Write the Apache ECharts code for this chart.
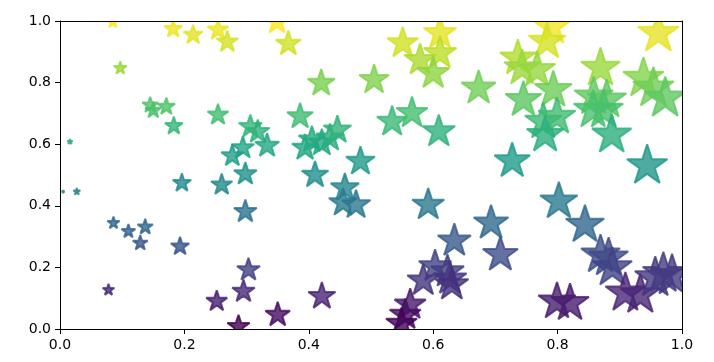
<!DOCTYPE html>
<html><head><meta charset="utf-8">
<script src="https://cdn.jsdelivr.net/npm/echarts@6/dist/echarts.min.js"></script>
<style>html,body{margin:0;padding:0;background:#fff}#c{width:714px;height:362px}</style>
</head><body><div id="c"></div>
<script>
// ---- data ----
const xValues = [
  0.085,0.182,0.214,0.254,0.269,0.349,0.367,0.097,0.016,0.145,
  0.150,0.171,0.183,0.254,0.420,0.386,0.306,0.318,0.333,0.294,
  0.277,0.298,0.394,0.405,0.421,0.434,0.446,0.410,0.551,0.611,
  0.579,0.611,0.600,0.505,0.673,0.534,0.566,0.609,0.483,0.727,
  0.791,0.783,0.962,0.736,0.743,0.767,0.793,0.745,0.869,0.938,
  0.954,0.973,0.858,0.879,0.874,0.857,0.887,0.777,0.799,0.780,
  0.944,0.005,0.027,0.196,0.086,0.110,0.137,0.129,0.193,0.078,
  0.260,0.298,0.458,0.455,0.476,0.303,0.295,0.252,0.287,0.350,
  0.421,0.592,0.693,0.634,0.708,0.603,0.584,0.623,0.627,0.630,
  0.563,0.555,0.549,0.802,0.844,0.869,0.882,0.888,0.799,0.820,
  0.909,0.933,0.957,0.970,0.984
];
const yValues = [
  0.997,0.974,0.955,0.971,0.932,0.997,0.926,0.847,0.608,0.727,
  0.710,0.722,0.659,0.695,0.798,0.690,0.657,0.640,0.595,0.588,
  0.562,0.503,0.588,0.614,0.604,0.620,0.646,0.500,0.928,0.960,
  0.873,0.895,0.830,0.809,0.782,0.673,0.701,0.641,0.544,0.545,
  0.981,0.933,0.960,0.879,0.847,0.841,0.776,0.744,0.847,0.814,
  0.782,0.749,0.754,0.744,0.711,0.711,0.630,0.673,0.689,0.630,
  0.530,0.446,0.446,0.474,0.344,0.317,0.331,0.279,0.268,0.127,
  0.468,0.381,0.458,0.410,0.403,0.192,0.122,0.090,0.008,0.046,
  0.106,0.403,0.344,0.286,0.241,0.203,0.157,0.186,0.163,0.144,
  0.079,0.046,0.017,0.414,0.338,0.241,0.231,0.199,0.089,0.084,
  0.117,0.111,0.166,0.180,0.173
];
const xTickValues = [0.0,0.2,0.4,0.6,0.8,1.0];
const yTickValues = [0.0,0.2,0.4,0.6,0.8,1.0];

// ---- styling ----
const viridis = ['#440154','#482475','#414487','#355f8d','#2a788e','#21918c','#22a884','#44bf70','#7ad151','#bddf26','#fde725'];
function hexToRgb(h){return [parseInt(h.slice(1,3),16),parseInt(h.slice(3,5),16),parseInt(h.slice(5,7),16)];}
function cmap(t){
  t = Math.max(0, Math.min(1, t));
  const p = t*(viridis.length-1), i = Math.min(Math.floor(p), viridis.length-2), f = p-i;
  const a = hexToRgb(viridis[i]), b = hexToRgb(viridis[i+1]);
  const c = a.map((v,k)=>Math.round(v+(b[k]-v)*f));
  return 'rgb('+c.join(',')+')';
}
// matplotlib-like 5-point star, bbox forced to the unit square so its centre is the circle centre
let starPath = 'path://M-1,-1 M1,1 ';
for (let k=0;k<10;k++){
  const ang = (-90 + k*36)*Math.PI/180, r = (k%2===0)?1:0.381966;
  starPath += (k===0?'M':'L') + (r*Math.cos(ang)).toFixed(5) + ',' + (r*Math.sin(ang)).toFixed(5) + ' ';
}
starPath += 'Z';

const yMin = Math.min(...yValues), yMax = Math.max(...yValues);
const seriesData = xValues.map((x,i)=>{
  const col = cmap((yValues[i]-yMin)/(yMax-yMin));
  return {value:[x, yValues[i]], itemStyle:{color:col, borderColor:col}};
});

const G = {left:60, top:21, width:622, height:308};
const W = 714, H = 362;
const font = 'DejaVu Sans';
const axisCommon = {
  min:0, max:1, interval:0.2, z:20,
  axisLine:{show:true, onZero:false, lineStyle:{color:'#000', width:1}},
  axisTick:{show:true, inside:false, length:5, lineStyle:{color:'#000', width:1}},
  axisLabel:{color:'#000', fontSize:14, fontFamily:font, margin:9, formatter:v=>Number(v).toFixed(1)},
  splitLine:{show:false}
};
const spine = (pos)=>({type:'value', position:pos, min:0, max:1, z:20,
  axisLine:{show:true, onZero:false, lineStyle:{color:'#000', width:1}},
  axisTick:{show:false}, axisLabel:{show:false}, splitLine:{show:false}});

const chart = echarts.init(document.getElementById('c'), null, {renderer:'canvas'});
chart.setOption({
  animation:false,
  backgroundColor:'#fff',
  grid:{left:G.left, top:G.top, width:G.width, height:G.height, containLabel:false},
  xAxis:[Object.assign({type:'value', position:'bottom', customValues:xTickValues}, axisCommon), spine('top')],
  yAxis:[Object.assign({type:'value', position:'left', customValues:yTickValues}, axisCommon), spine('right')],
  graphic:[
    {type:'rect', z:10, silent:true, shape:{x:0,y:0,width:G.left,height:H}, style:{fill:'#fff'}},
    {type:'rect', z:10, silent:true, shape:{x:G.left+G.width,y:0,width:W-G.left-G.width,height:H}, style:{fill:'#fff'}},
    {type:'rect', z:10, silent:true, shape:{x:0,y:0,width:W,height:G.top}, style:{fill:'#fff'}},
    {type:'rect', z:10, silent:true, shape:{x:0,y:G.top+G.height,width:W,height:H-G.top-G.height}, style:{fill:'#fff'}}
  ],
  series:[{
    type:'scatter',
    xAxisIndex:0, yAxisIndex:0,
    symbol:starPath,
    symbolSize:(v)=>Math.sqrt(1000*v[0])*100/72,
    itemStyle:{opacity:0.8, borderWidth:2, borderJoin:'bevel'},
    emphasis:{disabled:true},
    clip:false,
    data:seriesData
  }]
});
</script>
</body></html>
